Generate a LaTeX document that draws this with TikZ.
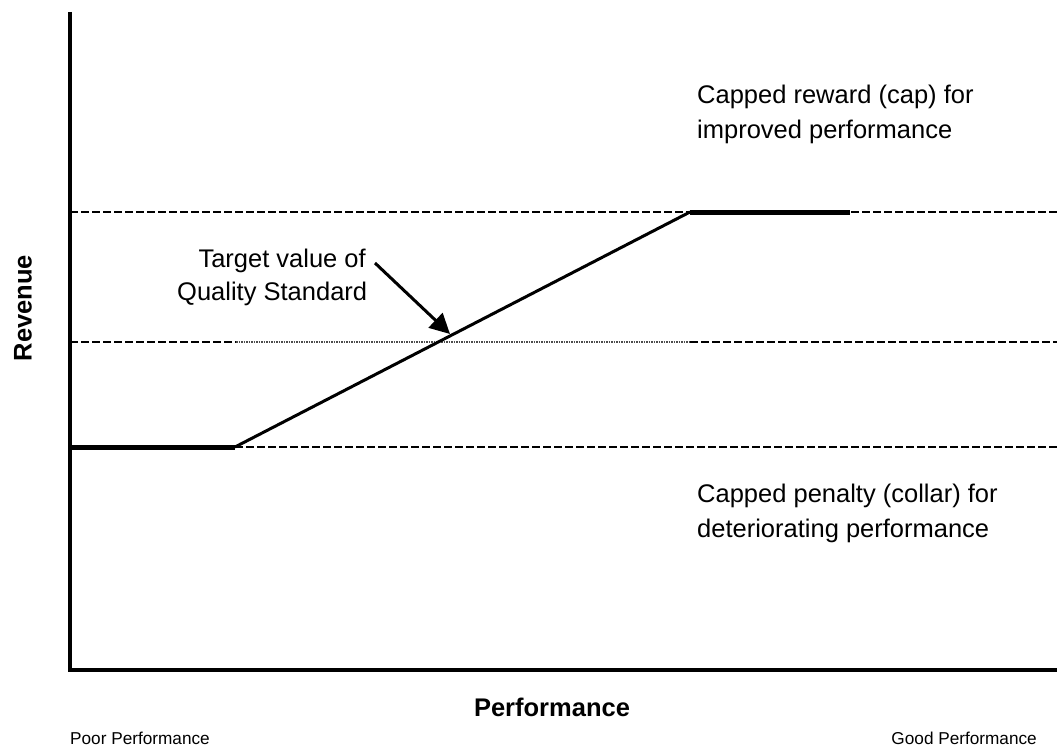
\documentclass[tikz,border=0pt]{standalone}
\usepackage{fontspec}
\setmainfont{Liberation Sans}
\usetikzlibrary{arrows.meta}
\begin{document}
\begin{tikzpicture}[x=1pt,y=-1pt,
  axis/.style={line width=4pt},
  capline/.style={line width=5pt},
  guide/.style={line width=1.3pt, dash pattern=on 8pt off 3pt},
  fine/.style={line width=1.3pt, black!70, dash pattern=on 1.5pt off 1pt},
  ramp/.style={line width=3pt},
  big/.style={font=\fontsize{25.5}{30}\selectfont, inner sep=0pt},
  small/.style={font=\fontsize{17.2}{20}\selectfont, inner sep=0pt},
  axlabel/.style={font=\fontsize{25.5}{30}\selectfont\bfseries, inner sep=0pt}]
\useasboundingbox (0,0) rectangle (1057,749);
% coordinates
\coordinate (o) at (70,670);
\coordinate (ytop) at (70,12);
\coordinate (xend) at (1057,670);
\coordinate (tl) at (70,212);
\coordinate (tr) at (1057,212);
\coordinate (capA) at (690,212);
\coordinate (capB) at (850,212);
\coordinate (ml) at (70,342);
\coordinate (m1) at (236,342);
\coordinate (m2) at (690,342);
\coordinate (mr) at (1057,342);
\coordinate (bl) at (70,447);
\coordinate (colB) at (235,447);
\coordinate (br) at (1057,447);
% guide lines
\draw[guide] (tl) -- (tr);
\draw[guide] (ml) -- (m1);
\draw[fine] (m1) -- (m2);
\draw[guide] (m2) -- (mr);
\draw[guide] (bl) -- (br);
% caps
\draw[capline] (capA) -- (capB);
\draw[capline] (bl) -- (colB);
\draw[ramp] (colB) -- (capA);
% axes
\draw[axis] (ytop) -- (o) -- (xend);
% labels
\node[big, anchor=base west] (cap1) at (697,104) {Capped reward (cap) for};
\node[big, anchor=base west] (cap2) at (697,139) {improved performance};
\node[big, anchor=base west] (col1) at (697,502) {Capped penalty (collar) for};
\node[big, anchor=base west] (col2) at (697,537) {deteriorating performance};
\node[big, anchor=base east] (tv1) at (366,267) {Target value of};
\node[big, anchor=base west] (tv2) at (177,300) {Quality Standard};
\coordinate (as) at (375,263);
\coordinate (tip) at (450,334);
\draw[line width=3pt, -{Triangle[length=20pt,width=20pt]}] (as) -- (tip);
\node[axlabel, rotate=90] (rev) at (23,308) {Revenue};
\node[axlabel, anchor=base] (perf) at (552,716) {Performance};
\node[small, anchor=base west] (poor) at (70,744) {Poor Performance};
\node[small, anchor=base east] (good) at (1037,744) {Good Performance};
\end{tikzpicture}
\end{document}
